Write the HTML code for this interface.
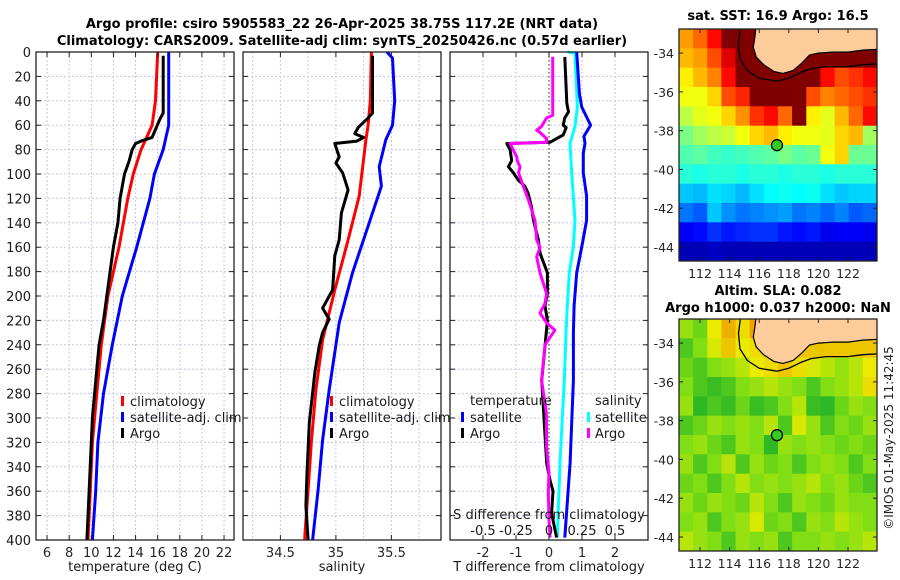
<!DOCTYPE html>
<html><head><meta charset="utf-8"><style>
html,body{margin:0;padding:0;background:#fff;}
svg{display:block;font-family:"DejaVu Sans","Liberation Sans",sans-serif;}
</style></head><body>
<svg id="fig" width="900" height="580" viewBox="0 0 900 580" xmlns="http://www.w3.org/2000/svg">
<text x="342" y="28" text-anchor="middle" font-size="13" font-weight="bold">Argo profile: csiro 5905583_22 26-Apr-2025 38.75S 117.2E (NRT data)</text>
<text x="342" y="45" text-anchor="middle" font-size="13" font-weight="bold">Climatology: CARS2009. Satellite-adj clim: synTS_20250426.nc (0.57d earlier)</text>
<text x="778" y="20" text-anchor="middle" font-size="13" font-weight="bold">sat. SST: 16.9 Argo: 16.5</text>
<text x="778" y="295" text-anchor="middle" font-size="13" font-weight="bold">Altim. SLA: 0.082</text>
<text x="778" y="312" text-anchor="middle" font-size="13" font-weight="bold">Argo h1000: 0.037 h2000: NaN</text>
<text x="0" y="0" transform="translate(893,438) rotate(-90)" text-anchor="middle" font-size="12" fill="#262626">©IMOS 01-May-2025 11:42:45</text>
<g id="layer"></g>
</svg>
<script>
// ---------- profile data ----------
const tempClimDepth=[0,40,60,80,100,120,160,200,240,280,320,360,400];
const tempClimVal=[16.0,15.8,15.5,14.5,13.8,13.3,12.5,11.5,10.9,10.5,10.1,9.9,9.7];
const tempSatDepth=[0,60,80,100,120,140,160,200,240,280,320,360,400];
const tempSatVal=[17,17,16.5,15.7,15.3,14.7,14.1,12.8,11.9,11.1,10.6,10.4,10.1];
const tempArgoDepth=[3,50,55,70,73,75,80,90,100,120,140,160,180,200,220,240,260,300,340,380,400];
const tempArgoVal=[16.5,16.5,16.2,15.5,14.5,14.0,13.7,13.4,13.0,12.6,12.4,12.0,11.7,11.4,11.1,10.7,10.5,10.1,9.9,9.7,9.6];

const salClimDepth=[0,40,60,72,118,154,195,236,277,318,359,397,400];
const salClimVal=[35.32,35.31,35.29,35.27,35.21,35.11,34.99,34.88,34.82,34.78,34.75,34.72,34.72];
const salSatDepth=[0,5,40,60,72,94,110,140,181,222,277,318,359,400];
const salSatVal=[35.46,35.51,35.53,35.51,35.45,35.39,35.41,35.30,35.15,35.03,34.94,34.88,34.84,34.79];
const salArgoDepth=[3,50,55,62,67,70,73,75,86,91,99,113,132,154,167,195,210,219,230,241,263,304,345,372,400];
const salArgoVal=[35.33,35.33,35.28,35.2,35.17,35.25,35.19,34.99,35.03,35.0,35.06,35.11,35.05,35.03,34.99,34.97,34.88,34.94,34.88,34.85,34.81,34.76,34.74,34.73,34.75];

const dTSatDepth=[0,34,45,60,69,75,83,99,118,138,160,181,208,230,269,337,398];
const dTSatVal=[0.84,0.92,0.99,1.26,1.06,1.09,1.04,1.04,1.14,1.14,0.99,0.84,0.76,0.74,0.74,0.64,0.48];
const dSSatDepth=[0,1,45,61,75,99,138,160,181,208,230,269,337,398];
const dSSatVal=[0.14,0.197,0.215,0.197,0.159,0.172,0.197,0.184,0.154,0.139,0.129,0.116,0.083,0.063];
const dTArgoDepth=[4,42,49,54,60,62,68,71,74,75,80,89,94,99,105,110,116,127,138,154,165,181,198,208,220,235,250,269,337,351,360,378,398];
const dTArgoVal=[0.48,0.54,0.59,0.48,0.43,0.52,0.43,0.23,0.03,-1.28,-1.18,-1.13,-1.23,-1.08,-0.93,-0.73,-0.63,-0.53,-0.47,-0.32,-0.27,-0.05,-0.05,-0.12,-0.05,-0.1,-0.15,-0.22,-0.07,0.03,0.12,0.08,0.23];
const dSArgoDepth=[4,52,54,61,64,66,71,74,75,86,89,94,99,110,121,138,154,160,168,181,198,206,214,222,228,240,269,296,324,345,360,383,398];
const dSArgoVal=[0.028,0.028,-0.018,-0.056,-0.093,-0.068,-0.018,-0.02,-0.295,-0.245,-0.24,-0.22,-0.23,-0.195,-0.157,-0.106,-0.093,-0.068,-0.093,-0.068,-0.018,-0.03,-0.068,-0.018,0.045,-0.03,-0.056,-0.02,-0.018,0.0,-0.005,0.0,0.008];

const depthTicks=[0,20,40,60,80,100,120,140,160,180,200,220,240,260,280,300,320,340,360,380,400];
const tempTicks=[6,8,10,12,14,16,18,20,22];
const salTicks=[34.5,35,35.5];
const salGrid=[34.25,34.5,34.75,35,35.25,35.5,35.75];
const dTTicks=[-2,-1,0,1,2];
const dSTicks=[-0.5,-0.25,0,0.25,0.5];
const dSTickLabels=["-0.5","-0.25","0","0.25","0.5"];

// ---------- map data ----------
const sstGrid=[
[18.4,18.8,19.5,20.5,20.5,20.5,20.5,20.5,20.5,20.5,20.5,20.5,20.5,20.5],
[18.2,18.4,19,19.8,20.5,20.5,20.5,20.5,20.5,20.5,20.5,20.5,20.5,20.5],
[17.8,18.2,18.6,19.5,20.5,20.5,20.5,20.5,20.5,20.5,19.5,19,19.2,19.5],
[17.6,17.6,18,19,19.3,20.5,20.5,20.5,20.5,19,18.6,18.8,19,19.2],
[17.2,17.5,17.6,18,18.5,19.2,19.5,18.8,20.5,17.8,17.5,18.2,18.8,19.5],
[16.7,17,17.2,17.3,17.6,18,18.2,17.8,17.6,17.6,17.5,18,18.2,17],
[16.4,16.5,16.3,16.2,16.3,16.4,16.5,16.7,16.5,16.6,17.6,18,16.6,16.6],
[16.1,16.0,16.1,16.1,16.0,16.1,16.1,16.0,16.1,16.1,16.0,16.1,16.1,16.1],
[15.4,15.3,15.6,15.5,15.3,15.6,15.8,15.9,15.8,15.9,15.6,15.4,15.5,15.5],
[14.8,14.6,15.4,15.0,14.8,14.9,15.0,15.1,14.8,14.9,14.7,14.9,14.6,14.7],
[13.9,14,14.3,14.1,14.2,14.3,14.3,14.1,14.0,14.1,13.8,13.9,13.9,13.8],
[13.4,13.4,13.5,13.4,13.4,13.4,13.4,13.4,13.4,13.4,13.4,13.4,13.4,13.4]];
const slaGrid=[
[.12,.08,.2,.28,.22,.3,.3,.3,.3,.3,.3,.3,.3,.3],
[.05,.1,.18,.25,.2,.22,.25,.25,.25,.25,.25,.25,.25,.25],
[.08,.05,.1,.12,.15,.2,.22,.25,.22,.18,.15,.12,.15,.2],
[.1,.05,.03,.05,.1,.12,.15,.12,.1,.05,.1,.12,.15,.22],
[.12,.02,.05,.03,.08,.03,.05,.1,.15,.03,.02,.08,.12,.1],
[.05,.08,.12,.1,.12,.1,.15,.05,.18,.12,.05,.1,.08,.12],
[.1,.12,.08,.05,.12,.1,.02,.12,.1,.12,.1,.08,.1,.08],
[.12,.05,.1,.15,.05,.12,.08,.1,.05,.1,.12,.1,.05,.1],
[.08,.1,.05,.1,.15,.1,.12,.1,.12,.15,.1,.12,.08,.05],
[.12,.08,.12,.1,.08,.15,.1,.05,.12,.1,.08,.12,.1,.1],
[.1,.12,.05,.1,.12,.18,.08,.1,.05,.12,.1,.15,.12,.1],
[.15,.12,.1,.05,.12,.1,.12,.05,.1,.1,.12,.1,.12,.15]];
const lonTicks=[112,114,116,118,120,122];
const latTicks=[-34,-36,-38,-40,-42,-44];
const latTickLabels=["-34","-36","-38","-40","-42","-44"];
const landLon=[115.8,115.7,115.6,115.8,116.3,117,117.6,118.3,118.9,119.4,120,121,122,123,124.2,124.2];
const landLat=[-32.6,-33.2,-33.7,-34.2,-34.6,-34.95,-35.05,-34.9,-34.5,-34.1,-34.0,-33.95,-33.95,-33.85,-33.8,-32.6];
const isoLon=[114.75,114.6,114.7,115.2,116,117.2,118,118.8,119.5,120.5,122,123,124.2];
const isoLat=[-32.6,-33.5,-34.3,-34.9,-35.3,-35.45,-35.3,-35.0,-34.8,-34.7,-34.7,-34.6,-34.55];
const argoLon=117.2, argoLat=-38.75;

const NS="http://www.w3.org/2000/svg";
const layer=document.getElementById('layer');
function mk(tag,attrs,parent){const e=document.createElementNS(NS,tag);for(const k in attrs)e.setAttribute(k,attrs[k]);(parent||layer).appendChild(e);return e;}

const PT=52,PB=540;
const yD=d=>PT+d*(PB-PT)/400;

function panel(name,x0,x1,vmin,vmax){
  const xs=v=>x0+(v-vmin)*(x1-x0)/(vmax-vmin);
  const g=mk('g',{});
  
  
  return {g,xs,x0,x1};
}
function gridV(p,vals){vals.forEach(v=>{const l=mk('line',{x1:p.xs(v),x2:p.xs(v),y1:PT,y2:PB,stroke:'#c4c8e6','stroke-width':1,'stroke-dasharray':'2,2'},p.g);});}
function gridH(p){depthTicks.forEach(d=>{const l=mk('line',{x1:p.x0,x2:p.x1,y1:yD(d),y2:yD(d),stroke:'#c4c8e6','stroke-width':1,'stroke-dasharray':'2,2'},p.g);
  mk('line',{x1:p.x0,x2:p.x0+5,y1:yD(d),y2:yD(d),stroke:'#222'},p.g);mk('line',{x1:p.x1,x2:p.x1-5,y1:yD(d),y2:yD(d),stroke:'#222'},p.g);});}
function frame(p){const r=mk('rect',{x:p.x0,y:PT,width:p.x1-p.x0,height:PB-PT,fill:'none',stroke:'#222','stroke-width':1.3},p.g);}
function xTicks(p,vals,labels,name){vals.forEach((v,i)=>{mk('line',{x1:p.xs(v),x2:p.xs(v),y1:PB,y2:PB-5,stroke:'#222'},p.g);mk('line',{x1:p.xs(v),x2:p.xs(v),y1:PT,y2:PT+5,stroke:'#222'},p.g);
  const t=mk('text',{x:p.xs(v),y:PB+17,'text-anchor':'middle','font-size':13,fill:'#262626'},p.g);t.textContent=labels?labels[i]:String(v);});}
function line(p,depths,vals,color,name,w){
  const pts=depths.map((d,i)=>p.xs(vals[i]).toFixed(1)+','+yD(d).toFixed(1)).join(' ');
  const pl=mk('polyline',{points:pts,fill:'none',stroke:color,'stroke-width':w||3,'stroke-linejoin':'round'},p.g);
  }
function txt(p,x,y,s,name,anchor,size){const t=mk('text',{x,y,'text-anchor':anchor||'start','font-size':size||13,fill:'#1a1a1a'},p.g);t.textContent=s;return t;}
function legMark(p,x,y,c){const r=mk('rect',{x:x,y:y-6,width:3,height:10,fill:c},p.g);}

// Panel 1 temperature
const p1=panel('temperature-panel',36,234,5.0,22.9);
gridV(p1,tempTicks);gridH(p1);
line(p1,tempClimDepth,tempClimVal,'#ff0000','temp-climatology-line');
line(p1,tempSatDepth,tempSatVal,'#0000ff','temp-satellite-line');
line(p1,tempArgoDepth,tempArgoVal,'#000','temp-argo-line');
frame(p1);xTicks(p1,tempTicks,null,'temp-tick-label');
depthTicks.forEach(d=>{txt(p1,31,yD(d)+5,String(d),'depth-tick-label','end');});
txt(p1,135,571,'temperature (deg C)','temp-x-axis-title','middle');
legMark(p1,121,402,'#f00');txt(p1,130,406,'climatology','legend-climatology');
legMark(p1,121,418,'#00f');txt(p1,130,422,'satellite-adj. clim','legend-satellite');
legMark(p1,121,434,'#000');txt(p1,130,438,'Argo','legend-argo');

// Panel 2 salinity
const p2=panel('salinity-panel',243,441,34.163,35.947);
gridV(p2,salGrid);gridH(p2);
line(p2,salClimDepth,salClimVal,'#ff0000','sal-climatology-line');
line(p2,salSatDepth,salSatVal,'#0000ff','sal-satellite-line');
line(p2,salArgoDepth,salArgoVal,'#000','sal-argo-line');
frame(p2);xTicks(p2,salTicks,["34.5","35","35.5"],'sal-tick-label');
txt(p2,342,571,'salinity','sal-x-axis-title','middle');
legMark(p2,330,402,'#f00');txt(p2,339,406,'climatology','legend-climatology');
legMark(p2,330,418,'#00f');txt(p2,339,422,'satellite-adj. clim','legend-satellite');
legMark(p2,330,434,'#000');txt(p2,339,438,'Argo','legend-argo');

// Panel 3 differences
const p3=panel('difference-panel',450,648,-3,3);
const p3s={g:p3.g,xs:v=>p3.xs(v*4),x0:450,x1:648};
gridV(p3,dTTicks);gridH(p3);
const zl=mk('line',{x1:p3.xs(0),x2:p3.xs(0),y1:PT,y2:PB,stroke:'#556b2f','stroke-width':1.3,'stroke-dasharray':'1.5,2.5'},p3.g);

line(p3s,dSSatDepth,dSSatVal,'#00ffff','dS-satellite-line');
line(p3,dTSatDepth,dTSatVal,'#0000ff','dT-satellite-line');
line(p3,dTArgoDepth,dTArgoVal,'#000','dT-argo-line');
line(p3s,dSArgoDepth,dSArgoVal,'#ff00ff','dS-argo-line');
frame(p3);xTicks(p3,dTTicks,null,'dT-tick-label');
txt(p3,549,571,'T difference from climatology','dT-x-axis-title','middle');
txt(p3,549,519,'S difference from climatology','dS-axis-title','middle');
dSTicks.forEach((v,i)=>txt(p3,p3s.xs(v),535,dSTickLabels[i],'dS-tick-label','middle'));
txt(p3,470,405,'temperature','legend-temperature-header');
legMark(p3,461,418,'#00f');txt(p3,470,422,'satellite','legend-dT-satellite');
legMark(p3,461,434,'#000');txt(p3,470,438,'Argo','legend-dT-argo');
txt(p3,595,405,'salinity','legend-salinity-header');
legMark(p3,587,418,'#0ff');txt(p3,595,422,'satellite','legend-dS-satellite');
legMark(p3,587,434,'#f0f');txt(p3,595,438,'Argo','legend-dS-argo');

// ---------- maps ----------
function jet(t){t=Math.max(0,Math.min(1,t));const c=x=>Math.round(255*Math.max(0,Math.min(1,1.5-Math.abs(x))));return `rgb(${c(4*t-3)},${c(4*t-2)},${c(4*t-1)})`;}
const slaStops=[[0,[25,175,40]],[0.1,[130,222,20]],[0.2,[235,235,0]],[0.3,[240,160,0]],[0.4,[220,110,0]]];
function slaColor(v){for(let i=1;i<slaStops.length;i++){if(v<=slaStops[i][0]||i==slaStops.length-1){const a=slaStops[i-1],b=slaStops[i];let f=(v-a[0])/(b[0]-a[0]);f=Math.max(0,Math.min(1,f));return `rgb(${a[1].map((c,k)=>Math.round(c+(b[1][k]-c)*f)).join(',')})`;}}}
function drawMap(name,top,grid,colorFn){
  const L=679,R=877,T=top,B=top+232,lon0=110.58,lon1=123.96,lat0=-32.76,lat1=-44.72;
  const xl=lon=>L+(lon-lon0)*(R-L)/(lon1-lon0);
  const yl=lat=>T+(lat-lat0)*(B-T)/(lat1-lat0);
  const g=mk('g',{});
  const cid='clip'+top;const cp=mk('clipPath',{id:cid},g);mk('rect',{x:L,y:T,width:R-L,height:B-T},cp);
  const cg=mk('g',{'clip-path':`url(#${cid})`},g);
  const nr=grid.length,nc=grid[0].length,cw=(lon1-lon0)/nc,ch=(lat1-lat0)/nr;
  grid.forEach((row,r)=>row.forEach((v,c)=>{const x=xl(lon0+c*cw),y=yl(lat0+r*ch);
    const e=mk('rect',{x:x.toFixed(1),y:y.toFixed(1),width:(xl(lon0+(c+1)*cw)-x+0.6).toFixed(1),height:(yl(lat0+(r+1)*ch)-y+0.6).toFixed(1),fill:colorFn(v)},cg);
    }));
  const lp=mk('polygon',{points:landLon.map((lo,i)=>xl(lo).toFixed(1)+','+yl(landLat[i]).toFixed(1)).join(' '),fill:'#fdcc9a',stroke:'#000','stroke-width':1.2},cg);
  
  const iso=mk('polyline',{points:isoLon.map((lo,i)=>xl(lo).toFixed(1)+','+yl(isoLat[i]).toFixed(1)).join(' '),fill:'none',stroke:'#000','stroke-width':1.3},cg);
  
  const m=mk('circle',{cx:xl(argoLon),cy:yl(argoLat),r:5.5,fill:'#33cc22',stroke:'#000','stroke-width':1.3},g);
  
  const fr=mk('rect',{x:L,y:T,width:R-L,height:B-T,fill:'none',stroke:'#222','stroke-width':1.3},g);
  
  lonTicks.forEach(lo=>{mk('line',{x1:xl(lo),x2:xl(lo),y1:B,y2:B-4,stroke:'#222'},g);mk('line',{x1:xl(lo),x2:xl(lo),y1:T,y2:T+4,stroke:'#222'},g);
    const t=mk('text',{x:xl(lo),y:B+17,'text-anchor':'middle','font-size':12.5,fill:'#262626'},g);t.textContent=String(lo);});
  latTicks.forEach((la,i)=>{mk('line',{x1:L,x2:L+4,y1:yl(la),y2:yl(la),stroke:'#222'},g);mk('line',{x1:R,x2:R-4,y1:yl(la),y2:yl(la),stroke:'#222'},g);
    const t=mk('text',{x:L-5,y:yl(la)+5,'text-anchor':'end','font-size':12.5,fill:'#262626'},g);t.textContent=latTickLabels[i];});
}
drawMap('sst-map',29,sstGrid,v=>jet((v-13)/7.5));
drawMap('sla-map',319,slaGrid,slaColor);
</script>
</body></html>
